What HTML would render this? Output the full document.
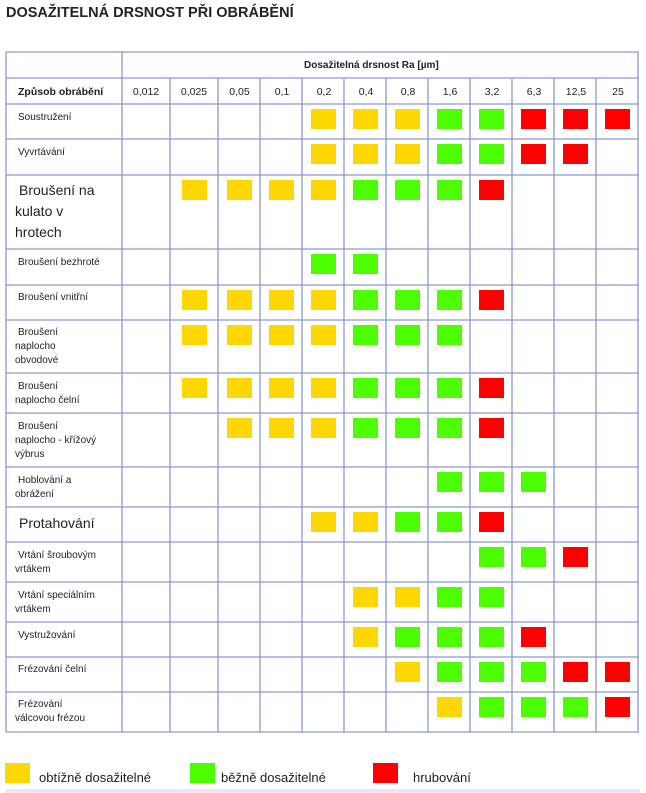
<!DOCTYPE html>
<html><head><meta charset="utf-8"><style>
html,body{margin:0;padding:0;background:#fff;width:646px;height:793px;overflow:hidden}
svg{display:block}
text{font-family:"Liberation Sans","DejaVu Sans",sans-serif;fill:#222}
</style></head><body>
<svg id="s" width="646" height="793" xmlns="http://www.w3.org/2000/svg">
<text x="6" y="17" font-size="14.5" font-weight="bold" fill="#222">DOSAŽITELNÁ DRSNOST PŘI OBRÁBĚNÍ</text>
<text x="304" y="68" font-size="10" font-weight="bold">Dosažitelná drsnost Ra [µm]</text>
<text x="18" y="95" font-size="10.5" font-weight="bold">Způsob obrábění</text>
<g font-size="10.5" text-anchor="middle">
<text x="146" y="95">0,012</text><text x="194" y="95">0,025</text><text x="239.5" y="95">0,05</text><text x="282" y="95">0,1</text><text x="324" y="95">0,2</text><text x="366" y="95">0,4</text><text x="408" y="95">0,8</text><text x="450" y="95">1,6</text><text x="492" y="95">3,2</text><text x="534" y="95">6,3</text><text x="576" y="95">12,5</text><text x="618" y="95">25</text>
</g>
<g font-size="10">
<text x="18" y="120">Soustružení</text>
<text x="18" y="155">Vyvrtávání</text>
<text x="18" y="265">Broušení bezhroté</text>
<text x="18" y="300">Broušení vnitřní</text>
<text x="18" y="335">Broušení</text><text x="15" y="349">naplocho</text><text x="15" y="363">obvodové</text>
<text x="18" y="389">Broušení</text><text x="15" y="403">naplocho čelní</text>
<text x="18" y="429">Broušení</text><text x="15" y="443">naplocho - křížový</text><text x="15" y="457">výbrus</text>
<text x="18" y="483">Hoblování a</text><text x="15" y="497">obrážení</text>
<text x="18" y="558">Vrtání šroubovým</text><text x="15" y="572">vrtákem</text>
<text x="18" y="598">Vrtání speciálním</text><text x="15" y="612">vrtákem</text>
<text x="18" y="638">Vystružování</text>
<text x="18" y="672">Frézování čelní</text>
<text x="18" y="707">Frézování</text><text x="15" y="721">válcovou frézou</text>
</g>
<g font-size="14">
<text x="19" y="195">Broušení na</text><text x="15" y="216">kulato v</text><text x="15" y="237">hrotech</text>
<text x="19" y="528">Protahování</text>
</g>
<g font-size="13" fill="#333">
<text x="39" y="782">obtížně dosažitelné</text>
<text x="221" y="782">běžně dosažitelné</text>
<text x="413" y="782">hrubování</text>
</g>
<rect x="5" y="763" width="25" height="20" fill="#FFD700"/>
<rect x="190" y="763" width="25" height="20" fill="#4CFF00"/>
<rect x="373" y="763" width="25" height="20" fill="#FF0000"/>
<rect x="6" y="789" width="634" height="4" fill="#E6EAF5"/>
</svg>
<script>
var s=document.getElementById('s'),NS='http://www.w3.org/2000/svg';
function el(n,a){var e=document.createElementNS(NS,n);for(var k in a)e.setAttribute(k,a[k]);s.appendChild(e);}
var cols=[6,122,170,218,260,302,344,386,428,470,512,554,596,638];
var rows=[52,78,104,139,175,249,285,320,373,413,467,507,542,582,622,657,692,732];
var Y='#FFD700',G='#4CFF00',R='#FF0000';
var data=[
{Y:[4,5,6],G:[7,8],R:[9,10,11]},
{Y:[4,5,6],G:[7,8],R:[9,10]},
{Y:[1,2,3,4],G:[5,6,7],R:[8]},
{G:[4,5]},
{Y:[1,2,3,4],G:[5,6,7],R:[8]},
{Y:[1,2,3,4],G:[5,6,7]},
{Y:[1,2,3,4],G:[5,6,7],R:[8]},
{Y:[2,3,4],G:[5,6,7],R:[8]},
{G:[7,8,9]},
{Y:[4,5],G:[6,7],R:[8]},
{G:[8,9],R:[10]},
{Y:[5,6],G:[7,8]},
{Y:[5],G:[6,7,8],R:[9]},
{Y:[6],G:[7,8,9],R:[10,11]},
{Y:[7],G:[8,9,10],R:[11]}];
var cmap={Y:Y,G:G,R:R};
data.forEach(function(d,i){var top=rows[i+2];for(var c in d){d[c].forEach(function(j){var l=cols[j+1],r=cols[j+2];el('rect',{x:Math.round((l+r)/2-12.5),y:top+5,width:25,height:20,fill:cmap[c]});});}});
var bc='#8A9ACF';
rows.forEach(function(y,i){el('line',{x1:6,x2:639,y1:y,y2:y,stroke:bc,'stroke-width':1.3});});
cols.forEach(function(x,i){var y1=(i==0||i==1||i==13)?52:78;el('line',{x1:x,x2:x,y1:y1,y2:732,stroke:bc,'stroke-width':1.3});});
</script>
</body></html>
